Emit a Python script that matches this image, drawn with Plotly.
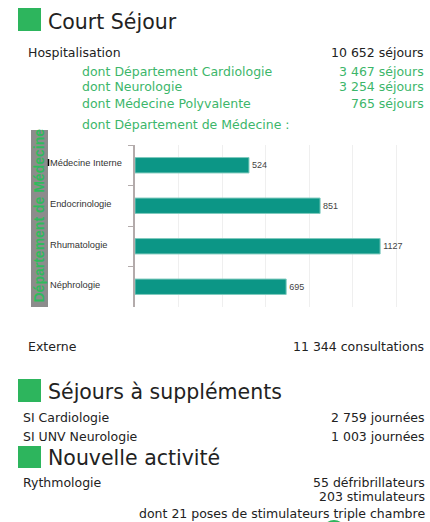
import plotly.graph_objects as go

W, H = 430, 522

# ---- data ----
categories = ["Médecine Interne", "Endocrinologie", "Rhumatologie", "Néphrologie"]
values = [524, 851, 1127, 695]
grid_ticks = [0, 200, 400, 600, 800, 1000, 1200]
axis_title = "Département de Médecine"

section_titles = ["Court Séjour", "Séjours à suppléments", "Nouvelle activité"]
hosp_label, hosp_value = "Hospitalisation", "10 652 séjours"
dont_labels = ["dont Département Cardiologie", "dont Neurologie", "dont Médecine Polyvalente"]
dont_values = ["3 467 séjours", "3 254 séjours", "765 séjours"]
dont_dept = "dont Département de Médecine :"
ext_label, ext_value = "Externe", "11 344 consultations"
supp_labels = ["SI Cardiologie", "SI UNV Neurologie"]
supp_values = ["2 759 journées", "1 003 journées"]
ryth_label = "Rythmologie"
ryth_values = ["55 défribrillateurs", "203 stimulateurs", "dont 21 poses de stimulateurs triple chambre"]

# ---- style ----
GREEN_SQ = "#2db55d"
GREEN_TX = "#3cb66a"
DARK = "#222222"
TEAL = "#0c9686"
FONT = "DejaVu Sans"


def px(x):
    return x / W


def py(y):
    return 1 - y / H


fig = go.Figure()
fig.add_trace(go.Bar(
    y=categories, x=values, orientation="h",
    marker=dict(color=TEAL, line=dict(color="#7fcabe", width=1)),
    text=[str(v) for v in values], textposition="outside",
    textfont=dict(family="Liberation Sans, Arial", size=9, color="#444444"),
    cliponaxis=False, hoverinfo="skip",
))

annotations = []
shapes = []


def txt(x, y, s, size, color, xanchor="left", family=FONT, **kw):
    annotations.append(dict(x=px(x), y=py(y), xref="paper", yref="paper", text=s,
                            showarrow=False, xanchor=xanchor, yanchor="middle",
                            font=dict(family=family, size=size, color=color), **kw))


def square(x0, y0, x1, y1):
    shapes.append(dict(type="rect", xref="paper", yref="paper", x0=px(x0), x1=px(x1),
                       y0=py(y1), y1=py(y0), fillcolor=GREEN_SQ, line=dict(width=0)))


# section headers
sec_pos = [(8, 31, 22), (379, 402, 392), (446, 468, 458)]
for t, (y0, y1, yc) in zip(section_titles, sec_pos):
    square(18, y0, 41, y1)
    txt(46, yc, t, 20.5, DARK)

# Court séjour block
txt(26, 53, hosp_label, 12.5, DARK)
txt(426, 53, hosp_value, 12.5, DARK, xanchor="right")
for lab, val, yc in zip(dont_labels, dont_values, [71, 87, 103]):
    txt(80, yc, lab, 12.5, GREEN_TX)
    txt(426, yc, val, 12.5, GREEN_TX, xanchor="right")
txt(80, 124, dont_dept, 12.5, GREEN_TX)

txt(26, 346, ext_label, 12.5, DARK)
txt(426, 346, ext_value, 12.5, DARK, xanchor="right")

for lab, val, yc in zip(supp_labels, supp_values, [417, 436]):
    txt(21, yc, lab, 12.5, DARK)
    txt(427, yc, val, 12.5, DARK, xanchor="right")

txt(21, 482, ryth_label, 12.5, DARK)
for val, yc in zip(ryth_values, [482, 496, 513]):
    txt(427, yc, val, 12.5, DARK, xanchor="right")

# category labels (left aligned)
for c, yc in zip(categories, [163, 204, 245, 285]):
    txt(48, yc, c, 9.3, "#333333", family="Liberation Sans, Arial")

# grey vertical band + rotated title
shapes.append(dict(type="rect", xref="paper", yref="paper", x0=px(31), x1=px(48),
                   y0=py(307), y1=py(130), fillcolor="#8c8c8c", line=dict(width=0), layer="below"))
annotations.append(dict(x=px(38.5), y=py(216), xref="paper", yref="paper", text="<b>" + axis_title + "</b>",
                        showarrow=False, textangle=-90, xanchor="center", yanchor="middle",
                        font=dict(family="Liberation Sans, Arial", size=14, color="#2fba5c")))
# small black mark
shapes.append(dict(type="line", xref="paper", yref="paper", x0=px(48.5), x1=px(48.5),
                   y0=py(166), y1=py(159), line=dict(color="#000000", width=1.5)))
# green arc peeking at the bottom
shapes.append(dict(type="circle", xref="paper", yref="paper", x0=px(322), x1=px(346),
                   y0=py(545), y1=py(520), fillcolor=GREEN_SQ, line=dict(width=0)))

X0, X1 = 135, 417.75
Y0, Y1 = 145, 307
fig.update_layout(
    width=W, height=H, margin=dict(l=0, r=0, t=0, b=0),
    paper_bgcolor="white", plot_bgcolor="white", showlegend=False,
    bargap=0.62,
    xaxis=dict(domain=[px(X0), px(X1)], range=[0, 1300], tickmode="array", tickvals=grid_ticks,
               showgrid=True, gridcolor="#efefef", gridwidth=1, showticklabels=False,
               zeroline=False, showline=False, fixedrange=True),
    yaxis=dict(domain=[py(Y1), py(Y0)], autorange="reversed", type="category",
               showticklabels=False, showline=True, linecolor="#b3abab", linewidth=1.5,
               ticks="outside", tickson="boundaries", ticklen=5, tickcolor="#b3abab",
               showgrid=False, zeroline=False, fixedrange=True),
    annotations=annotations, shapes=shapes,
)

fig.write_html(
    "out.html",
    config={"displayModeBar": False},
    post_script="document.body.style.margin='0';document.body.style.overflow='hidden';",
)
